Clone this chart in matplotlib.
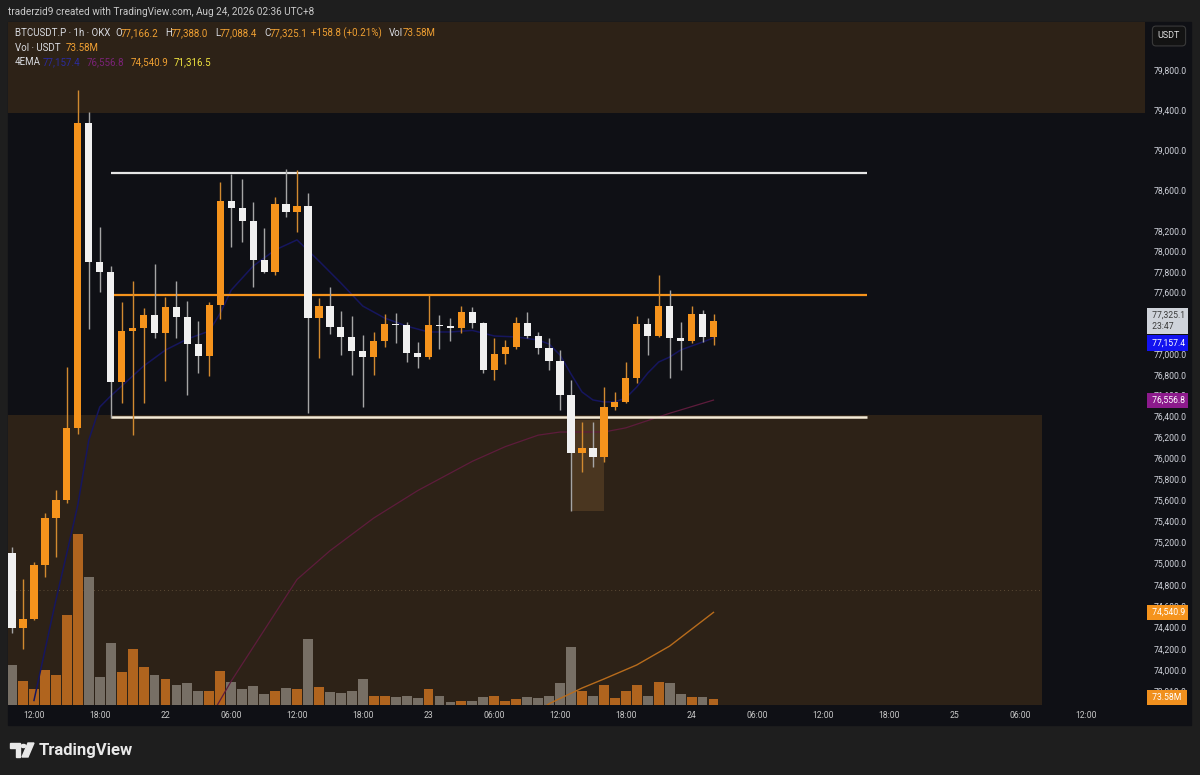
import matplotlib.pyplot as plt
from matplotlib.patches import Rectangle, Polygon, Circle
from matplotlib.ticker import NullLocator

plt.rcParams['font.family'] = ['Roboto', 'DejaVu Sans']

# hourly candles, hour 0 = Aug 21 12:00 (UTC+8)
hours = list(range(-2, 63))
opens = [75096, 74392, 74478, 74986, 75431, 75601, 76286, 79274, 77894, 77802,
         76734, 77227, 77250, 77377, 77202, 77455, 77363, 77098, 76982, 77477,
         78497, 78431, 78303, 77917, 77796, 78467, 78391, 78447, 77353, 77470,
         77266, 77169, 77033, 76969, 77127, 77292, 77280, 77008, 76975, 77283,
         77276, 77250, 77406, 77305, 76850, 76998, 77074, 77299, 77179, 77063,
         76934, 76606, 76052, 76094, 76013, 76488, 76541, 76772, 77290, 77179,
         77470, 77159, 77127, 77389, 77166.2]
highs = [75153, 74851, 75017, 75478, 75696, 76871, 79600, 79383, 78243, 77858,
         77503, 77711, 77451, 77877, 77552, 77711, 77519, 77324, 77509, 78687,
         78764, 78714, 78484, 78228, 78539, 78813, 78805, 78572, 77542, 77656,
         77418, 77370, 77185, 77217, 77389, 77396, 77315, 77115, 77575, 77380,
         77353, 77470, 77460, 77315, 77153, 77135, 77357, 77406, 77217, 77153,
         77040, 76750, 76349, 76343, 76680, 76632, 76927, 77370, 77350, 77770,
         77623, 77312, 77467, 77428, 77388.0]
lows = [74345, 74195, 74470, 74872, 75063, 75571, 76235, 77241, 77601, 76389,
        76532, 76221, 76526, 77153, 76743, 77153, 76606, 76815, 76791, 77338,
        78047, 78090, 77656, 77790, 77770, 78342, 78194, 76430, 76959, 77195,
        76991, 76798, 76493, 76798, 77072, 77105, 76927, 76863, 76953, 77046,
        77130, 77202, 77250, 76822, 76748, 76905, 77050, 77153, 77001, 76842,
        76464, 75500, 75871, 75912, 75966, 76462, 76530, 76724, 76991, 77169,
        76766, 76847, 77105, 77117, 77088.4]
closes = [74392, 74478, 74986, 75431, 75601, 76286, 79274, 77894, 77802, 76734,
          77227, 77250, 77377, 77202, 77455, 77363, 77098, 76982, 77477, 78497,
          78431, 78303, 77917, 77796, 78467, 78391, 78447, 77353, 77470, 77266,
          77169, 77033, 76969, 77127, 77292, 77280, 77008, 76975, 77283, 77276,
          77250, 77406, 77305, 76850, 76998, 77074, 77299, 77179, 77063, 76934,
          76606, 76052, 76094, 76013, 76488, 76541, 76772, 77290, 77179, 77470,
          77159, 77127, 77389, 77166.2, 77325.1]
volumes_m = [516, 310, 203, 452, 387, 1161, 2202, 1655, 365, 800,
             422, 719, 494, 387, 332, 258, 280, 181, 181, 439,
             297, 203, 245, 142, 181, 215, 203, 851, 236, 172,
             151, 181, 332, 120, 120, 99, 120, 86, 203, 116,
             43, 55, 55, 107, 120, 55, 77, 99, 86, 120,
             288, 752, 184, 120, 254, 86, 184, 254, 120, 301,
             280, 142, 99, 99, 73.58]

# 4EMA lines
ema_fast_h = [0, 1, 2, 3, 4, 5, 6, 7, 8, 10, 12, 14, 16, 17, 18, 20, 22, 24, 26, 28,
              30, 32, 34, 36, 38, 40, 42, 44, 46, 47, 48, 49, 50, 51, 52, 53, 54,
              55, 56, 57, 58, 59, 60, 61, 62]
ema_fast = [73720, 74186, 74656, 75099, 75554, 76172, 76490, 76596, 76692, 76885,
            77040, 77147, 77224, 77399, 77623, 77858, 78015, 78114, 77907, 77692,
            77467, 77350, 77272, 77215, 77215, 77230, 77176, 77167, 77137, 77098,
            76991, 76808, 76635, 76558, 76539, 76539, 76577, 76683, 76817, 76924,
            76972, 77040, 77079, 77117, 77157.4]
ema_mid_h = [16, 18, 24, 27, 31, 35, 40, 43, 46, 48, 52, 54, 56, 58, 62]
ema_mid = [73550, 73900, 74850, 75120, 75430, 75690, 75970, 76110, 76220, 76250,
           76250, 76290, 76360, 76430, 76556.8]
ema_slow_h = [45, 47, 50, 52, 55, 58, 62]
ema_slow = [73550, 73690, 73835, 73919, 74050, 74226, 74540.9]

# drawings
range_high = 78770
range_mid = 77575
range_low = 76395
line_span = (7, 76)
zone_top = 79370
zone_bottom_top = 76410
zone_bottom_end = 92
wick_box = (49, 52, 75497, 76365)
dotted_level = 74750

ytick_vals = [79800, 79400, 79000, 78600, 78200, 78000, 77800, 77600, 77400, 77000,
              76800, 76600, 76400, 76200, 76000, 75800, 75600, 75400, 75200, 75000,
              74800, 74600, 74400, 74200, 74000, 73810]
xtick_hours = list(range(0, 97, 6))
xtick_labels = ['12:00', '18:00', '22', '06:00', '12:00', '18:00', '23', '06:00', '12:00',
                '18:00', '24', '06:00', '12:00', '18:00', '25', '06:00', '12:00']

W, H = 1200, 775
UP = '#f5931c'
DOWN = '#f0f0f0'
BG = '#0f1015'
BROWN = '#2d2217'
XL = (-2.37, 101.37)
YL = (73678, 80283)


def pos(x0, y0, x1, y1):
    return [x0 / W, 1 - y1 / H, (x1 - x0) / W, (y1 - y0) / H]


fig = plt.figure(figsize=(12, 7.75), dpi=100)
fig.patch.set_facecolor('#1e1e1e')
fig.patches.append(Rectangle((8 / W, 1 - 725 / H), 1183 / W, 703 / H,
                             transform=fig.transFigure, color=BG, zorder=-5))

area = pos(8, 22, 1145, 705)

# background zones
ax_bg = fig.add_axes(area, zorder=0)
ax_bg.set_yscale('log')
ax_bg.set_xlim(*XL)
ax_bg.set_ylim(*YL)
ax_bg.axis('off')
ax_bg.add_patch(Rectangle((XL[0], zone_top), XL[1] - XL[0], YL[1] - zone_top, color=BROWN, lw=0))
ax_bg.add_patch(Rectangle((XL[0], YL[0]), zone_bottom_end - XL[0], zone_bottom_top - YL[0],
                          color=BROWN, lw=0))
ax_bg.add_patch(Rectangle((wick_box[0], wick_box[2]), wick_box[1] - wick_box[0],
                          wick_box[3] - wick_box[2], color='#4a3620', lw=0))
ax_bg.hlines(dotted_level, XL[0], zone_bottom_end, color='#5c4b36', lw=0.7, ls=(0, (1, 3)))

# volume
ax_vol = fig.add_axes(area, zorder=1)
ax_vol.patch.set_visible(False)
ax_vol.set_xlim(*XL)
ax_vol.set_ylim(0, 8811)
ax_vol.axis('off')
vol_cols = ['#b0641e' if c >= o else '#776f65' for o, c in zip(opens, closes)]
ax_vol.bar(hours, volumes_m, width=0.9, color=vol_cols, lw=0)

# price pane
ax = fig.add_axes(area, zorder=2)
ax.patch.set_visible(False)
ax.set_yscale('log')
ax.set_xlim(*XL)
ax.set_ylim(*YL)
for s in ax.spines.values():
    s.set_visible(False)

ax.plot(ema_fast_h, ema_fast, color='#16165e', lw=1.1, zorder=2)
ax.plot(ema_mid_h, ema_mid, color='#5e1c3c', lw=0.9, zorder=2)
ax.plot(ema_slow_h, ema_slow, color='#b86c1c', lw=1.0, zorder=2)

ax.hlines(range_high, *line_span, color='#e6e6e6', lw=1.6, zorder=3)
ax.hlines(range_mid, *line_span, color='#f5931c', lw=1.6, zorder=3)
ax.hlines(range_low, *line_span, color='#f4ead6', lw=1.8, zorder=3)

wick_cols = ['#d18a30' if c >= o else '#a5a5a5' for o, c in zip(opens, closes)]
body_cols = [UP if c >= o else DOWN for o, c in zip(opens, closes)]
ax.vlines(hours, lows, highs, colors=wick_cols, lw=1.0, zorder=4)
bottoms = [min(o, c) for o, c in zip(opens, closes)]
heights = [max(abs(c - o), 9) for o, c in zip(opens, closes)]
ax.bar(hours, heights, bottom=bottoms, width=0.66, color=body_cols, lw=0, zorder=5)

# axes ticks
ax.yaxis.tick_right()
ax.yaxis.set_minor_locator(NullLocator())
ax.set_yticks(ytick_vals)
ax.set_yticklabels([f'{v:,.1f}' for v in ytick_vals])
ax.tick_params(axis='y', length=0, pad=6, labelsize=6.2, labelcolor='#d1d4dc')
ax.set_xticks(xtick_hours)
ax.set_xticklabels(xtick_labels)
ax.tick_params(axis='x', length=0, pad=4, labelsize=6.2, labelcolor='#c8c8c8')

# price scale labels
ytr = ax.get_yaxis_transform()
def price_tag(y, text, fc, tc):
    ax.text(1.0045, y, text, transform=ytr, fontsize=6.2, color=tc, ha='left', va='center',
            clip_on=False, zorder=10, linespacing=1.25,
            bbox=dict(boxstyle='square,pad=0.35', fc=fc, ec='none'))

price_tag(77325.1, ' 77,325.1\n 23:47', '#cfd3da', '#3a3a3a')
price_tag(77108, ' 77,157.4', '#1212f0', '#ffffff')
price_tag(76556.8, ' 76,556.8', '#8c1a8c', '#ffffff')
price_tag(74540.9, ' 74,540.9', '#f5931c', '#ffffff')
price_tag(73745, ' 73.58M ', '#f0901e', '#ffffff')

# header, legend and footer
fig.text(8 / W, 1 - 12 / H, 'traderzid9 created with TradingView.com, Aug 24, 2026 02:36 UTC+8',
         fontsize=7.2, color='#c8c8c8', va='center')
fig.text(1169 / W, 1 - 36 / H, 'USDT', fontsize=6.5, color='#e0e0e0', ha='center', va='center',
         bbox=dict(boxstyle='round,pad=0.6,rounding_size=0.4', fc='#131313', ec='#3a3a3a', lw=0.8))

VAL = '#f0a032'
legend_rows = [
    (33, [(15, 'BTCUSDT.P · 1h · OKX', '#d8dae0'), (115, 'O', '#d8dae0'), (121, '77,166.2', VAL),
          (165, 'H', '#d8dae0'), (171, '77,388.0', VAL), (215, 'L', '#d8dae0'), (220, '77,088.4', VAL),
          (264, 'C', '#d8dae0'), (270, '77,325.1', VAL), (311, '+158.8 (+0.21%)', VAL),
          (389, 'Vol', '#d8dae0'), (403, '73.58M', VAL)]),
    (48, [(15, 'Vol · USDT', '#d8dae0'), (66, '73.58M', VAL)]),
    (62, [(15, '4EMA', '#d8dae0'), (43, '77,157.4', '#2b2b9c'), (87, '76,556.8', '#7b2278'),
          (131, '74,540.9', VAL), (174, '71,316.5', '#f2e640')]),
]
for yy, parts in legend_rows:
    for xx, txt, col in parts:
        fig.text(xx / W, 1 - yy / H, txt, fontsize=7, color=col, va='center')

# TradingView logo
fig.patches.append(Polygon([(10 / W, 1 - 743 / H), (20 / W, 1 - 743 / H), (20 / W, 1 - 757 / H),
                            (15.5 / W, 1 - 757 / H), (15.5 / W, 1 - 747.5 / H), (10 / W, 1 - 747.5 / H)],
                           closed=True, transform=fig.transFigure, color='#e8e8e8'))
fig.patches.append(Circle((23.5 / W, 1 - 746 / H), 2.4 / W, transform=fig.transFigure, color='#e8e8e8'))
fig.patches.append(Polygon([(28 / W, 1 - 743 / H), (34 / W, 1 - 743 / H), (28 / W, 1 - 757 / H),
                            (22 / W, 1 - 757 / H)], closed=True, transform=fig.transFigure,
                           color='#e8e8e8'))
fig.text(39 / W, 1 - 750.5 / H, 'TradingView', fontsize=12, color='#e8e8e8', va='center',
         fontweight='bold')

plt.savefig('out.png', dpi=100, facecolor=fig.get_facecolor())
